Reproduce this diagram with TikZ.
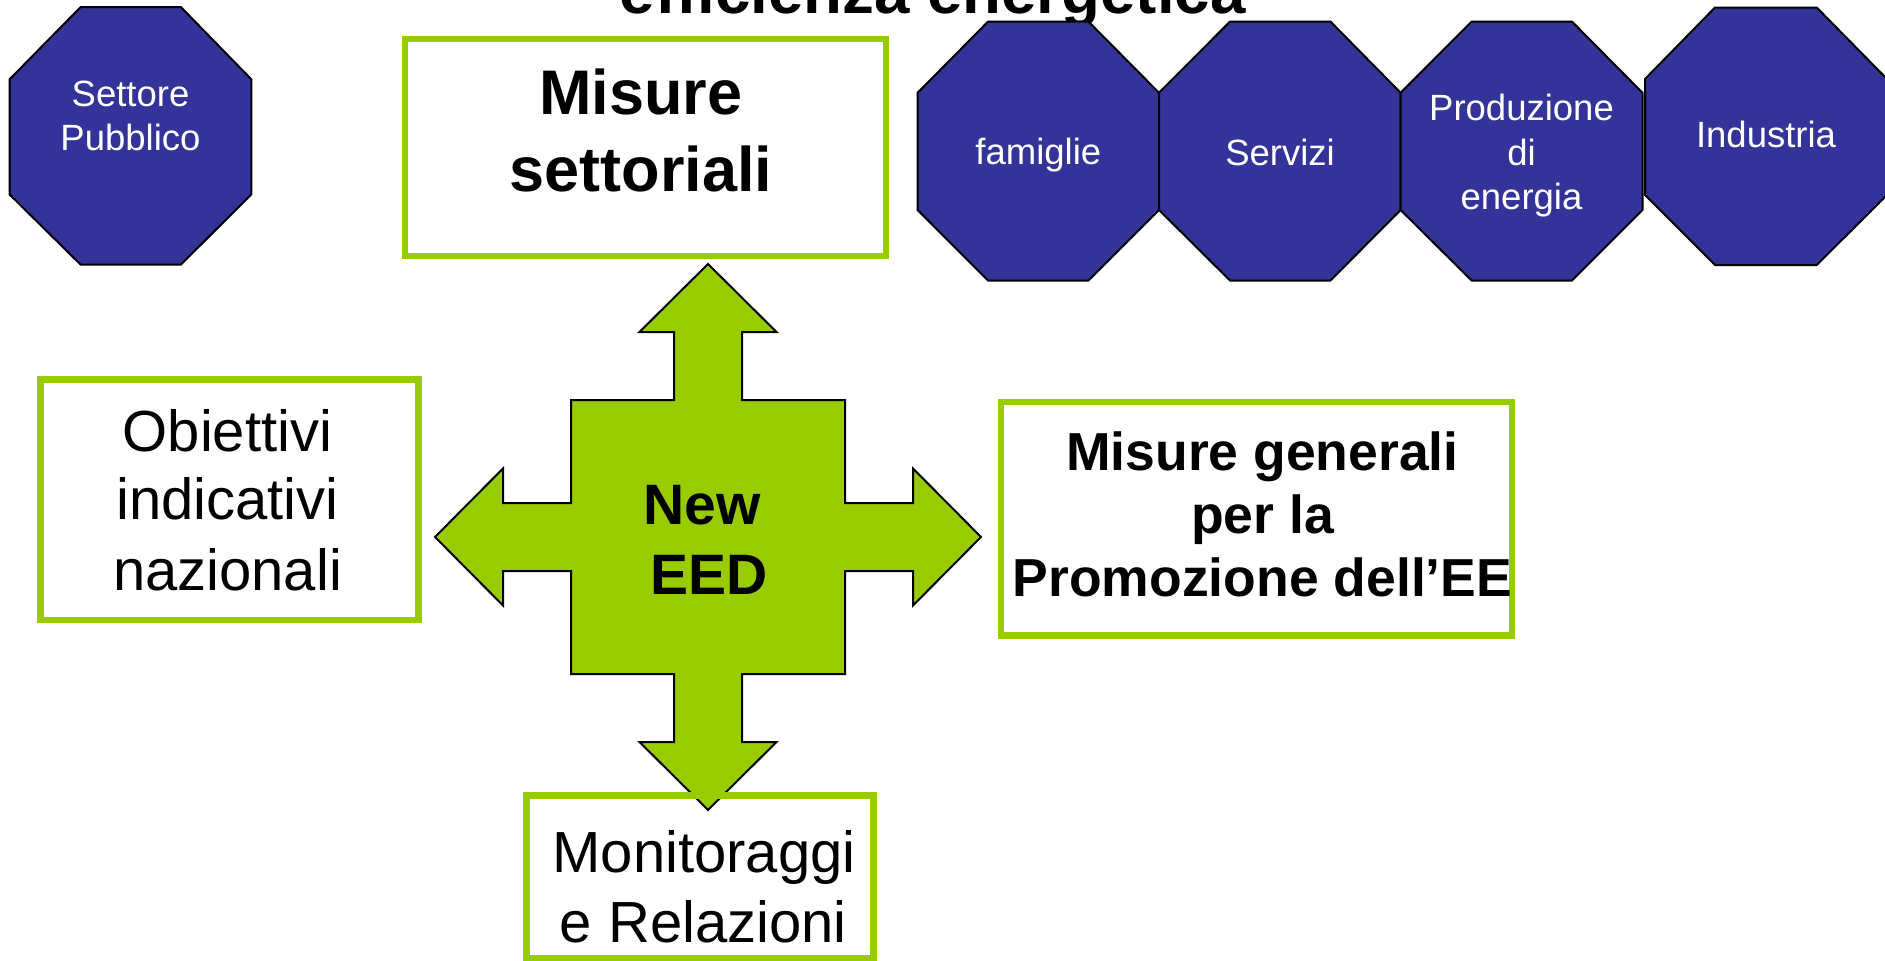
\documentclass[tikz,border=0pt]{standalone}
\usepackage{fontspec}
\setmainfont{Liberation Sans}
\definecolor{octblue}{RGB}{51,51,153}
\definecolor{eedgreen}{RGB}{153,204,0}
\tikzset{
  oct/.style={fill=octblue, draw=black, line width=2pt, line join=miter},
  gbox/.style={draw=eedgreen, line width=6.5pt, rectangle, inner sep=0pt, outer sep=0pt},
  crossarrow/.style={fill=eedgreen, draw=black, line width=2pt, line join=miter},
  octtxt/.style={text=white, inner sep=0pt, anchor=base, font=\fontsize{36.5}{44}\selectfont},
  regtxt/.style={text=black, inner sep=0pt, anchor=base, font=\fontsize{58}{69}\selectfont},
  boldbig/.style={text=black, inner sep=0pt, anchor=base, font=\fontsize{63}{76}\selectfont\bfseries},
  boldmid/.style={text=black, inner sep=0pt, anchor=base, font=\fontsize{57}{70}\selectfont\bfseries},
  boldsmall/.style={text=black, inner sep=0pt, anchor=base, font=\fontsize{53.5}{63}\selectfont\bfseries},
}
\begin{document}
\begin{tikzpicture}[x=1pt, y=-1pt]
\useasboundingbox (0,0) rectangle (1885,961);
\fill[white] (0,0) rectangle (1885,961);

% title (cut at top)
\node[boldbig, font=\fontsize{63.6}{76}\selectfont\bfseries] (title) at (932.7,13) {efficienza energetica};

% octagons
\draw[oct] (80.5,7.2) -- (181,7.2) -- (251.3,79.3) -- (251.3,194.5) -- (181,264.5) -- (80.5,264.5) -- (9.6,194.5) -- (9.6,79.3) -- cycle;
\draw[oct] (988,21.6) -- (1088.5,21.6) -- (1159,92.8) -- (1159,210) -- (1088.5,280.5) -- (988,280.5) -- (917.6,210) -- (917.6,92.8) -- cycle;
\draw[oct] (1230,21.6) -- (1330.5,21.6) -- (1400.6,92.8) -- (1400.6,210) -- (1330.5,280.5) -- (1230,280.5) -- (1159,210) -- (1159,92.8) -- cycle;
\draw[oct] (1471.6,21.6) -- (1572,21.6) -- (1642.5,92.8) -- (1642.5,210) -- (1572,280.5) -- (1471.6,280.5) -- (1400.6,210) -- (1400.6,92.8) -- cycle;
\draw[oct] (1715,7.5) -- (1816.7,7.5) -- (1887,79) -- (1887,195) -- (1816.7,265) -- (1715,265) -- (1645,195) -- (1645,79) -- cycle;

\node[octtxt] (sp1) at (130.5,106) {Settore};
\node[octtxt] (sp2) at (130.5,150.7) {Pubblico};
\node[octtxt] (fam) at (1038.3,164.3) {famiglie};
\node[octtxt] (ser) at (1280,165) {Servizi};
\node[octtxt] (pe1) at (1521.5,120) {Produzione};
\node[octtxt] (pe2) at (1521.5,165.5) {di};
\node[octtxt] (pe3) at (1521.5,209.5) {energia};
\node[octtxt] (ind) at (1766,147.7) {Industria};

% central four-way arrow
\coordinate (eed) at (708,537);
\draw[crossarrow] (708,264) -- (776.5,332) -- (742,332) -- (742,400) -- (845,400) -- (845,503) -- (913,503) -- (913,468.5) -- (981,537) -- (913,605.5) -- (913,571) -- (845,571) -- (845,674) -- (742,674) -- (742,742) -- (776.5,742) -- (708,810) -- (639.5,742) -- (674,742) -- (674,674) -- (571,674) -- (571,571) -- (503,571) -- (503,605.5) -- (435,537) -- (503,468.5) -- (503,503) -- (571,503) -- (571,400) -- (674,400) -- (674,332) -- (639.5,332) -- cycle;
\node[boldmid] (new) at (702,524) {New};
\node[boldmid] (eedt) at (709,594.3) {EED};

% green boxes
\node[gbox, minimum width=481pt, minimum height=217pt] (ms) at (645.65,147.3) {};
\node[gbox, minimum width=377.7pt, minimum height=240.7pt] (ob) at (229.55,499.65) {};
\node[gbox, minimum width=511pt, minimum height=233.5pt] (mg) at (1256.5,518.75) {};
\node[gbox, minimum width=347.4pt, minimum height=162.5pt] (mr) at (700,876.75) {};

\node[boldbig] (ms1) at (641,114.3) {Misure};
\node[boldbig] (ms2) at (641,191) {settoriali};

\node[regtxt] (ob1) at (227.5,451.7) {Obiettivi};
\node[regtxt] (ob2) at (227.5,519.3) {indicativi};
\node[regtxt] (ob3) at (227.5,590) {nazionali};

\node[boldsmall] (mg1) at (1262.5,470) {Misure generali};
\node[boldsmall] (mg2) at (1262.5,533.3) {per la};
\node[boldsmall] (mg3) at (1262.5,596.7) {Promozione dell’EE};

\node[regtxt] (mr1) at (704,872.7) {Monitoraggi};
\node[regtxt] (mr2) at (703.3,942.7) {e Relazioni};
\end{tikzpicture}
\end{document}
